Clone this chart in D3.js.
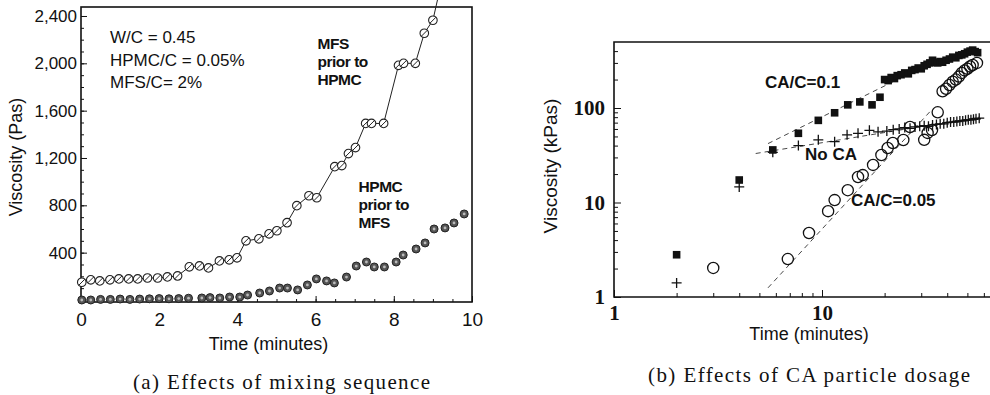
<!DOCTYPE html>
<html><head><meta charset="utf-8">
<script src="https://cdn.jsdelivr.net/npm/d3@7"></script>
<style>
html,body{margin:0;padding:0;background:#fff;}
svg{display:block;}
text{fill:#111;}
</style></head>
<body>
<svg id="c" width="990" height="395"></svg>
<script>
// ---------- Panel (a) data ----------
const mfsTime = [0.02,0.25,0.48,0.74,0.97,1.22,1.45,1.70,1.96,2.21,2.47,2.77,3.03,3.26,3.54,3.79,3.99,4.22,4.55,4.81,5.01,5.27,5.52,5.83,6.03,6.49,6.67,6.84,7.02,7.28,7.43,7.74,8.12,8.25,8.55,8.78,9.00,9.12];
const mfsVisc = [150,170,161,170,178,178,178,186,186,195,203,280,288,271,330,339,356,500,517,559,585,653,797,881,864,1127,1136,1237,1288,1492,1492,1492,1983,2000,2000,2254,2364,2540];
const hpmcTime = [0.02,0.25,0.5,0.75,1.0,1.25,1.5,1.75,2.0,2.25,2.5,2.75,3.09,3.3,3.55,3.80,4.06,4.26,4.57,4.82,5.08,5.28,5.54,5.79,6.02,6.28,6.48,6.79,7.04,7.30,7.50,7.76,8.06,8.24,8.57,8.80,9.03,9.31,9.54,9.80];
const hpmcVisc = [0,0,5,5,8,5,8,10,12,10,12,15,17,20,17,25,25,42,59,76,101,101,85,127,178,161,144,194,287,321,279,279,321,380,431,482,600,609,651,727];
const aXTicks = [0,2,4,6,8,10];
const aYTicks = [400,800,1200,1600,2000,2400];
const aYTickLabels = ["400","800","1,200","1,600","2,000","2,400"];
const aNotes = ["W/C = 0.45","HPMC/C = 0.05%","MFS/C= 2%"];
const aLabelMFS = ["MFS","prior to","HPMC"];
const aLabelHPMC = ["HPMC","prior to","MFS"];

// ---------- Panel (b) data ----------
const ca01Time = [2,4,5.8,7.7,9.6,11.5,13.3,15.2,17.4,19,20,20.8,21.5,22.3,23,24,25,26,27,28,29,30,31,32,33,34,35,36,37,38,39.5,41,42.5,44,45.5,47,48.5,50,51.5,53,54.5,56];
const ca01Visc = [2.8,17.3,36,54,74,89,108,116,108,130,200,195,210,205,220,225,235,230,250,255,265,260,280,290,300,320,305,300,310,305,320,330,345,340,360,365,375,390,400,410,395,385];
const noCaTime = [2,4,5.8,7.7,9.6,11.5,13.2,14.9,16.9,18.6,20.5,22,23.5,25,26.5,28,29.5,31,32.5,34,35.5,37,38.5,40,41.5,43,44.5,46,47.5,49,50.5,52,53.5,55,57];
const noCaVisc = [1.41,14.6,34,40,46,44,52,54,58,56,57,59,60,62,61,63,64,65,64,66,67,68,68,70,71,71,72,73,73,74,75,75,76,77,78];
const ca05Time = [3,6.85,8.66,10.7,11.5,13.3,14.9,15.7,17.6,19.3,20.7,21.9,24.6,26.5,31,32.2,33.8,36,38,39.5,41,42.5,44,45.5,47,48.5,50,51.5,53,55.6];
const ca05Visc = [2.03,2.52,4.76,8.1,10.6,13.5,18.6,19.5,25,31.8,37.7,42.6,45.9,63,46,54.5,58.5,90,150,160,175,190,200,215,235,250,260,275,285,300];
const fitCa01 = [[5.5,42],[22,190]];
const fitNoCa = [[4.8,33],[57,80]];
const fitCa05 = [[5.5,1.25],[34,98]];
const bXTicks = [1,10];
const bYTicks = [1,10,100];
const bLabels = ["CA/C=0.1","No CA","CA/C=0.05"];
const captions = ["(a)  Effects of mixing sequence","(b)  Effects of CA particle dosage"];

const svg = d3.select("#c");
const SANS = "'Liberation Sans', Arial, sans-serif";
const SERIF = "'Liberation Serif', 'Times New Roman', serif";

// ================= Panel (a) =================
const ax = d3.scaleLinear().domain([0,10]).range([81,472]);
const ay = d3.scaleLinear().domain([-17,2476]).range([302,7]);
const ga = svg.append("g");

ga.append("rect").attr("x",ax(0)).attr("y",ay(2476)).attr("width",ax(10)-ax(0)).attr("height",ay(-17)-ay(2476))
  .attr("fill","none").attr("stroke","#111").attr("stroke-width",1.6);

ga.append("g").attr("transform",`translate(0,${ay(-17)})`)
  .call(d3.axisBottom(ax).tickValues(d3.range(0,10.01,0.5)).tickSize(-3).tickFormat(""))
  .call(g=>g.select(".domain").remove());
ga.append("g").attr("transform",`translate(${ax(0)},0)`)
  .call(d3.axisLeft(ay).tickValues(d3.range(0,2401,100)).tickSize(-3).tickFormat(""))
  .call(g=>g.select(".domain").remove());
ga.append("g").attr("transform",`translate(0,${ay(-17)})`)
  .call(d3.axisBottom(ax).tickValues(aXTicks).tickSize(-6).tickPadding(11).tickFormat(d3.format("d")))
  .call(g=>g.select(".domain").remove())
  .call(g=>g.selectAll("text").attr("font-family",SANS).attr("font-size",19).attr("fill","#111"));
ga.append("g").attr("transform",`translate(${ax(0)},0)`)
  .call(d3.axisLeft(ay).tickValues(aYTicks).tickSize(-6).tickPadding(4).tickFormat((d,i)=>aYTickLabels[i]))
  .call(g=>g.select(".domain").remove())
  .call(g=>g.selectAll("text").attr("font-family",SANS).attr("font-size",17).attr("fill","#111"));
ga.selectAll(".tick line").attr("stroke","#111");

ga.append("text").attr("x",(ax(0)+ax(10))/2-8).attr("y",350).attr("text-anchor","middle")
  .attr("font-family",SANS).attr("font-size",18).text("Time  (minutes)");
ga.append("text").attr("transform","translate(22,157) rotate(-90)").attr("text-anchor","middle")
  .attr("font-family",SANS).attr("font-size",18).text("Viscosity (Pas)");

ga.selectAll("text.note").data(aNotes).join("text").attr("class","note")
  .attr("x",ax(0)+29).attr("y",(d,i)=>43+i*22.5)
  .attr("font-family",SANS).attr("font-size",17).text(d=>d);
ga.selectAll("text.lm").data(aLabelMFS).join("text").attr("class","lm")
  .attr("x",ax(6.05)).attr("y",(d,i)=>49+i*18)
  .attr("font-family",SANS).attr("font-weight","bold").attr("font-size",15.5).attr("letter-spacing",-0.5).text(d=>d);
ga.selectAll("text.lh").data(aLabelHPMC).join("text").attr("class","lh")
  .attr("x",ax(7.1)).attr("y",(d,i)=>192+i*18)
  .attr("font-family",SANS).attr("font-weight","bold").attr("font-size",15.5).attr("letter-spacing",-0.5).text(d=>d);

const mfs = mfsTime.map((t,i)=>({t,v:mfsVisc[i]}));
ga.append("path").datum(mfs).attr("fill","none").attr("stroke","#222").attr("stroke-width",1)
  .attr("d",d3.line().x(d=>ax(d.t)).y(d=>ay(d.v)));
const mfsPts = ga.selectAll("g.mfs").data(mfs.filter(d=>d.v<=2476)).join("g").attr("class","mfs")
  .attr("transform",d=>`translate(${ax(d.t)},${ay(d.v)})`);
mfsPts.append("circle").attr("r",4.3).attr("fill","#fff").attr("stroke","#222").attr("stroke-width",1.1);
mfsPts.append("line").attr("x1",-3).attr("y1",3).attr("x2",3).attr("y2",-3).attr("stroke","#222").attr("stroke-width",1);

const hp = hpmcTime.map((t,i)=>({t,v:hpmcVisc[i]}));
const hpPts = ga.selectAll("g.hp").data(hp).join("g").attr("class","hp")
  .attr("transform",d=>`translate(${ax(d.t)},${ay(d.v)})`);
hpPts.append("circle").attr("r",4).attr("fill","#555").attr("stroke","#222").attr("stroke-width",1);
hpPts.append("circle").attr("r",1.4).attr("fill","#bbb");

// ================= Panel (b) =================
const bx = d3.scaleLog().domain([1,70]).range([614,614+208*Math.log10(70)]);
const by = d3.scaleLog().domain([1,500]).range([297,297-94.5*Math.log10(500)]);
const gb = svg.append("g");

gb.append("path").attr("fill","none").attr("stroke","#111").attr("stroke-width",1.6)
  .attr("d",`M${bx(70)},${by(500)}H${bx(1)}V${by(1)}H${bx(70)}`);

const minorX = [2,3,4,5,6,7,8,9,20,30,40,50,60];
const minorY = [2,3,4,5,6,7,8,9,20,30,40,50,60,70,80,90,200,300,400];
gb.append("g").attr("transform",`translate(0,${by(1)})`)
  .call(d3.axisBottom(bx).tickValues(minorX).tickSize(-4).tickFormat(""))
  .call(g=>g.select(".domain").remove());
gb.append("g").attr("transform",`translate(${bx(1)},0)`)
  .call(d3.axisLeft(by).tickValues(minorY).tickSize(-4).tickFormat(""))
  .call(g=>g.select(".domain").remove());
gb.append("g").attr("transform",`translate(0,${by(1)})`)
  .call(d3.axisBottom(bx).tickValues(bXTicks).tickSize(-7).tickPadding(8).tickFormat(d3.format("d")))
  .call(g=>g.select(".domain").remove())
  .call(g=>g.selectAll("text").attr("font-family",SERIF).attr("font-size",21).attr("font-weight","bold").attr("fill","#111"));
gb.append("g").attr("transform",`translate(${bx(1)},0)`)
  .call(d3.axisLeft(by).tickValues(bYTicks).tickSize(-7).tickPadding(9).tickFormat(d3.format("d")))
  .call(g=>g.select(".domain").remove())
  .call(g=>g.selectAll("text").attr("font-family",SERIF).attr("font-size",21).attr("font-weight","bold").attr("fill","#111"));
gb.selectAll(".tick line").attr("stroke","#111");

gb.append("text").attr("x",809).attr("y",340).attr("text-anchor","middle")
  .attr("font-family",SANS).attr("font-size",18).text("Time  (minutes)");
gb.append("text").attr("transform","translate(557,166) rotate(-90)").attr("text-anchor","middle")
  .attr("font-family",SANS).attr("font-size",19).text("Viscosity  (kPas)");

[fitCa01,fitNoCa,fitCa05].forEach(f=>{
  gb.append("path").datum(f).attr("fill","none").attr("stroke","#333").attr("stroke-width",0.9)
    .attr("stroke-dasharray","5,4").attr("d",d3.line().x(d=>bx(d[0])).y(d=>by(d[1])));
});

gb.selectAll("rect.sq").data(ca01Time.map((t,i)=>({t,v:ca01Visc[i]}))).join("rect").attr("class","sq")
  .attr("x",d=>bx(d.t)-3.8).attr("y",d=>by(d.v)-3.8).attr("width",7.6).attr("height",7.6).attr("fill","#111");
gb.selectAll("path.pl").data(noCaTime.map((t,i)=>({t,v:noCaVisc[i]}))).join("path").attr("class","pl")
  .attr("transform",d=>`translate(${bx(d.t)},${by(d.v)})`)
  .attr("d","M-5,0H5M0,-5V5").attr("stroke","#111").attr("stroke-width",1.3).attr("fill","none");
gb.selectAll("circle.oc").data(ca05Time.map((t,i)=>({t,v:ca05Visc[i]}))).join("circle").attr("class","oc")
  .attr("cx",d=>bx(d.t)).attr("cy",d=>by(d.v)).attr("r",5.6)
  .attr("fill","none").attr("stroke","#111").attr("stroke-width",1.3);

const bLabPos = [[765,88],[805,160],[851,206]];
gb.selectAll("text.bl").data(bLabels).join("text").attr("class","bl")
  .attr("x",(d,i)=>bLabPos[i][0]).attr("y",(d,i)=>bLabPos[i][1])
  .attr("font-family",SANS).attr("font-weight","bold").attr("font-size",17).text(d=>d);

svg.append("text").attr("x",133).attr("y",389).attr("font-family",SERIF).attr("font-size",21)
  .attr("textLength",297).attr("lengthAdjust","spacing").text(captions[0]);
svg.append("text").attr("x",648).attr("y",382).attr("font-family",SERIF).attr("font-size",21)
  .attr("textLength",322).attr("lengthAdjust","spacing").text(captions[1]);
</script>
</body></html>
